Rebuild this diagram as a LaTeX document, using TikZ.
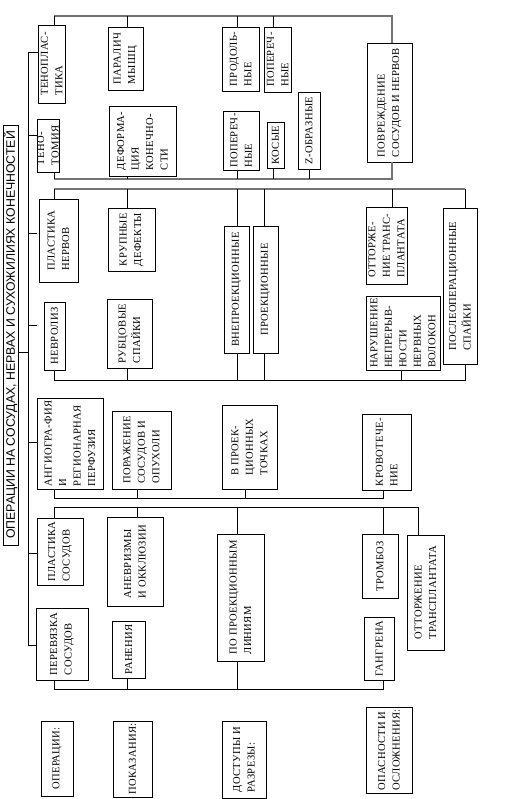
\documentclass[tikz,border=0pt]{standalone}
\usepackage{fontspec}
\setmainfont{Liberation Serif}[LetterSpace=3]
\newfontfamily\titlefont{Liberation Sans}
\tikzset{
  bx/.style={draw, line width=0.8pt, rotate=90, inner sep=0pt, align=left,
    font=\fontsize{10.6}{14.5}\selectfont},
  ln/.style={line width=0.8pt},
  gl/.style={line width=1.5pt, black!55},
}
\newcommand\bx[6]{\node[bx, minimum width={#5-#3}, minimum height={#4-#2}] (#1) at ({(#2+#4)/2},{(#3+#5)/2}) {#6};}
% connector from a group line up/down to a box
\newcommand\tobox[5]{\coordinate (#1) at (#2,#3); \draw[#5] (#1) -- (#1 |- #4);}
\begin{document}
\begin{tikzpicture}[x=1pt,y=-1pt]
\useasboundingbox (0,0) rectangle (515,799);
\fill[white] (0,0) rectangle (515,799);

% title
\node[draw, line width=0.8pt, rotate=90, inner sep=0pt, minimum width=420, minimum height=15,
  font=\titlefont\fontsize{12.3}{14}\selectfont] (title) at (10.5,335)
  {ОПЕРАЦИИ НА СОСУДАХ, НЕРВАХ И СУХОЖИЛИЯХ КОНЕЧНОСТЕЙ};

% ---------- group 1 : tendons
\bx{tenopl}{38}{25}{65}{103}{ТЕНОПЛАС-\\ТИКА}
\bx{paral}{108}{27}{143}{90}{ПАРАЛИЧ\\МЫШЦ}
\bx{prodol}{222}{27}{259}{91}{ПРОДОЛЬ-\\НЫЕ}
\bx{poperA}{264}{27}{291}{92}{ПОПЕРЕЧ-\\НЫЕ}
\bx{povr}{367}{43}{412}{162}{ПОВРЕЖДЕНИЕ\\СОСУДОВ И НЕРВОВ}
\bx{tenot}{37}{119}{59}{172}{ТЕНО-\\ТОМИЯ}
\bx{deform}{109}{106}{176}{176}{ДЕФОРМА-\\ЦИЯ\\КОНЕЧНО-\\СТИ}
\bx{poperB}{223}{111}{259}{170}{ПОПЕРЕЧ-\\НЫЕ}
\bx{kosye}{267}{122}{284}{168}{КОСЫЕ}
\bx{zobr}{298}{92}{320}{169}{Z-ОБРАЗНЫЕ}

\coordinate (g1tl) at (54,16); \coordinate (g1tr) at (392,16);
\coordinate (g1bl) at (54,179); \coordinate (g1br) at (392,179);
\draw[gl] (g1tl) -- (g1tr) -- (g1tr |- povr.east);
\draw[gl] (g1bl) -- (g1br) -- (g1br |- povr.west);
\tobox{c11}{54}{16}{tenopl.east}{ln}
\tobox{c12}{127}{16}{paral.east}{ln}
\tobox{c13}{237}{16}{prodol.east}{ln}
\tobox{c14}{273}{16}{poperA.east}{ln}
\tobox{d11}{54}{179}{tenot.west}{ln}
\tobox{d12}{127}{179}{deform.west}{ln}
\tobox{d13}{237}{179}{poperB.west}{ln}
\tobox{d14}{273}{179}{kosye.west}{ln}
\tobox{d15}{309}{179}{zobr.west}{ln}

% ---------- group 2 : nerves
\bx{plner}{39}{199}{78}{282}{ПЛАСТИКА\\НЕРВОВ}
\bx{krup}{108}{208}{155}{271}{КРУПНЫЕ\\ДЕФЕКТЫ}
\bx{vnepr}{224}{226}{249}{353}{ВНЕПРОЕКЦИОННЫЕ}
\bx{proek}{253}{226}{278}{353}{ПРОЕКЦИОННЫЕ}
\bx{ottorA}{366}{207}{407}{284}{ОТТОРЖЕ-\\НИЕ ТРАНС-\\ПЛАНТАТА}
\bx{posle}{443}{208}{477}{364}{ПОСЛЕОПЕРАЦИОННЫЕ\\СПАЙКИ}
\bx{nevrol}{44}{302}{65}{370}{НЕВРОЛИЗ}
\bx{rubc}{107}{299}{152}{368}{РУБЦОВЫЕ\\СПАЙКИ}
\bx{narush}{366}{296}{440}{370}{НАРУШЕНИЕ\\НЕПРЕРЫВ-\\НОСТИ\\НЕРВНЫХ\\ВОЛОКОН}

\coordinate (g2tl) at (54,189); \coordinate (g2tr) at (465,189);
\coordinate (g2bl) at (54,380); \coordinate (g2br) at (465,380);
\draw[gl] (g2tl) -- (g2tr);
\draw[ln] (g2tr) -- (g2tr |- posle.east);
\draw[ln] (g2bl) -- (g2br) -- (g2br |- posle.west);
\tobox{c21}{54}{189}{plner.east}{ln}
\tobox{c22}{127}{189}{krup.east}{ln}
\tobox{c23}{237}{189}{vnepr.east}{ln}
\tobox{c24}{264}{189}{proek.east}{ln}
\tobox{c25}{392}{189}{ottorA.east}{ln}
\tobox{d21}{54}{380}{nevrol.west}{ln}
\tobox{d22}{127}{380}{rubc.west}{ln}
\tobox{d23}{237}{380}{vnepr.west}{ln}
\tobox{d24}{264}{380}{proek.west}{ln}
\tobox{d25}{401}{380}{narush.west}{ln}

% ---------- group 3 : vessel diagnostics
\bx{angio}{37}{398}{103}{489}{АНГИОГРА-ФИЯ\\И\\РЕГИОНАРНАЯ\\ПЕРФУЗИЯ}
\bx{poraj}{112}{411}{171}{489}{ПОРАЖЕНИЕ\\СОСУДОВ И\\ОПУХОЛИ}
\bx{vproek}{222}{405}{277}{489}{В ПРОЕК-\\ЦИОННЫХ\\ТОЧКАХ}
\bx{krovot}{362}{414}{411}{490}{КРОВОТЕЧЕ-\\НИЕ}
\coordinate (g3l) at (54,498); \coordinate (g3r) at (383,498);
\draw[ln] (g3l) -- (g3r) -- (g3r |- krovot.west);
\tobox{d31}{54}{498}{angio.west}{ln}
\tobox{d32}{137}{498}{poraj.west}{ln}
\tobox{d33}{245}{498}{vproek.west}{ln}

% ---------- group 4 : vessel operations
\bx{plsos}{37}{518}{83}{585}{ПЛАСТИКА\\СОСУДОВ}
\bx{anevr}{107}{517}{163}{606}{АНЕВРИЗМЫ\\И ОККЛЮЗИИ}
\bx{poproek}{217}{534}{264}{661}{ПО ПРОЕКЦИОННЫМ\\ЛИНИЯМ}
\bx{tromb}{362}{534}{398}{598}{ТРОМБОЗ}
\bx{ottorB}{407}{535}{444}{650}{ОТТОРЖЕНИЕ\\ТРАНСПЛАНТАТА}
\bx{perev}{36}{608}{88}{680}{ПЕРЕВЯЗКА\\СОСУДОВ}
\bx{ranen}{112}{621}{145}{678}{РАНЕНИЯ}
\bx{gangr}{364}{617}{394}{680}{ГАНГРЕНА}
\coordinate (g4tl) at (54,507); \coordinate (g4tr) at (418,507);
\coordinate (g4bl) at (54,689); \coordinate (g4br) at (383,689);
\draw[ln] (g4tl) -- (g4tr) -- (g4tr |- ottorB.east);
\draw[ln] (g4bl) -- (g4br) -- (g4br |- gangr.west);
\tobox{c41}{54}{507}{plsos.east}{ln}
\tobox{c42}{137}{507}{anevr.east}{ln}
\tobox{c43}{237}{507}{poproek.east}{ln}
\tobox{c44}{383}{507}{tromb.east}{ln}
\tobox{d41}{54}{689}{perev.west}{ln}
\tobox{d42}{127}{689}{ranen.west}{ln}
\tobox{d43}{237}{689}{poproek.west}{ln}

% ---------- trunk
\coordinate (trT) at (28,52); \coordinate (trB) at (28,645);
\draw[ln] (trT) -- (trB);
\draw[ln] (trT) -- (trT -| tenopl.north);
\coordinate (s2) at (28,135); \draw[ln] (s2) -- (s2 -| tenot.north);
\coordinate (s3) at (28,233); \coordinate (s3e) at (37,233); \draw[ln] (s3) -- (s3e);
\coordinate (s4) at (28,325); \coordinate (s4e) at (37,325); \draw[ln] (s4) -- (s4e);
\coordinate (s5) at (28,442); \draw[ln] (s5) -- (s5 -| angio.north);
\coordinate (s6) at (28,553); \draw[ln] (s6) -- (s6 -| plsos.north);
\draw[ln] (trB) -- (trB -| perev.north);
\coordinate (st) at (28,352); \draw[ln] (st) -- (st -| title.south);

% ---------- row labels
\bx{lop}{41}{721}{73}{796}{ОПЕРАЦИИ:}
\bx{lpok}{113}{721}{152}{797}{ПОКАЗАНИЯ:}
\bx{ldost}{222}{721}{266}{798}{ДОСТУПЫ И\\РАЗРЕЗЫ:}
\bx{lopas}{366}{707}{412}{793}{ОПАСНОСТИ И\\ОСЛОЖНЕНИЯ:}
\end{tikzpicture}
\end{document}
